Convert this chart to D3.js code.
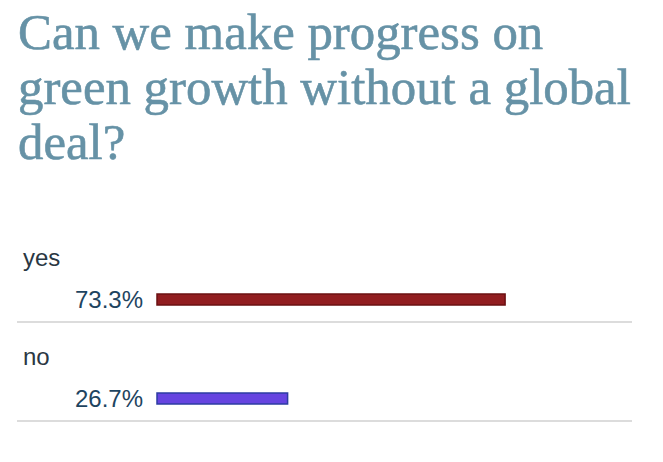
<!DOCTYPE html>
<html><head><meta charset="utf-8">
<script src="https://cdn.jsdelivr.net/npm/d3@7"></script>
<style>
html,body{margin:0;padding:0;background:#fff;}
svg{display:block;}
</style></head>
<body>
<svg id="chart" width="663" height="462"></svg>
<script>
const titleLines = ["Can we make progress on", "green growth without a global", "deal?"];
const categories = ["yes", "no"];
const percents = [73.3, 26.7];
const valueLabels = ["73.3%", "26.7%"];
const barFills = ["#911d20", "#6644e0"];
const barStrokes = ["#6b1012", "#2d3ca2"];

const svg = d3.select("#chart");

// Title
const title = svg.append("g").attr("font-family", "'Liberation Serif', 'Times New Roman', serif")
  .attr("fill", "#6692a6").attr("stroke", "#6692a6").attr("stroke-width", 0.6);
const tl = title.selectAll("text").data(titleLines).join("text")
  .attr("x", 18).attr("y", (d, i) => 49 + i * 55)
  .attr("font-size", 48).text(d => d);
// fit font size so the widest line spans the reference width
const w2 = tl.nodes()[1].getComputedTextLength();
const fs = 48 * 613 / w2;
tl.attr("font-size", fs);

// rows
const y = d3.scaleBand().domain(categories).range([223, 421]).padding(0);
const x = d3.scaleLinear().domain([0, 100]).range([6, 472.7]);
const barX0 = 157;

const rows = svg.selectAll("g.row").data(categories).join("g").attr("class", "row")
  .attr("transform", d => `translate(0,${y(d)})`);

rows.append("text").attr("x", 23).attr("y", 43)
  .attr("font-family", "'Liberation Sans', Arial, sans-serif").attr("font-size", 24)
  .attr("fill", "#2a3743").text(d => d);

rows.append("text").attr("x", 143).attr("y", 85).attr("text-anchor", "end")
  .attr("font-family", "'Liberation Sans', Arial, sans-serif").attr("font-size", 24)
  .attr("fill", "#1e4460").text((d, i) => valueLabels[i]);

rows.append("rect").attr("x", barX0).attr("y", 71)
  .attr("width", (d, i) => x(percents[i])).attr("height", 11)
  .attr("fill", (d, i) => barFills[i]).attr("stroke", (d, i) => barStrokes[i])
  .attr("stroke-width", 1.5);

rows.append("line").attr("x1", 17).attr("x2", 632).attr("y1", 99).attr("y2", 99)
  .attr("stroke", "#dcdcdc").attr("stroke-width", 2);
</script>
</body></html>
